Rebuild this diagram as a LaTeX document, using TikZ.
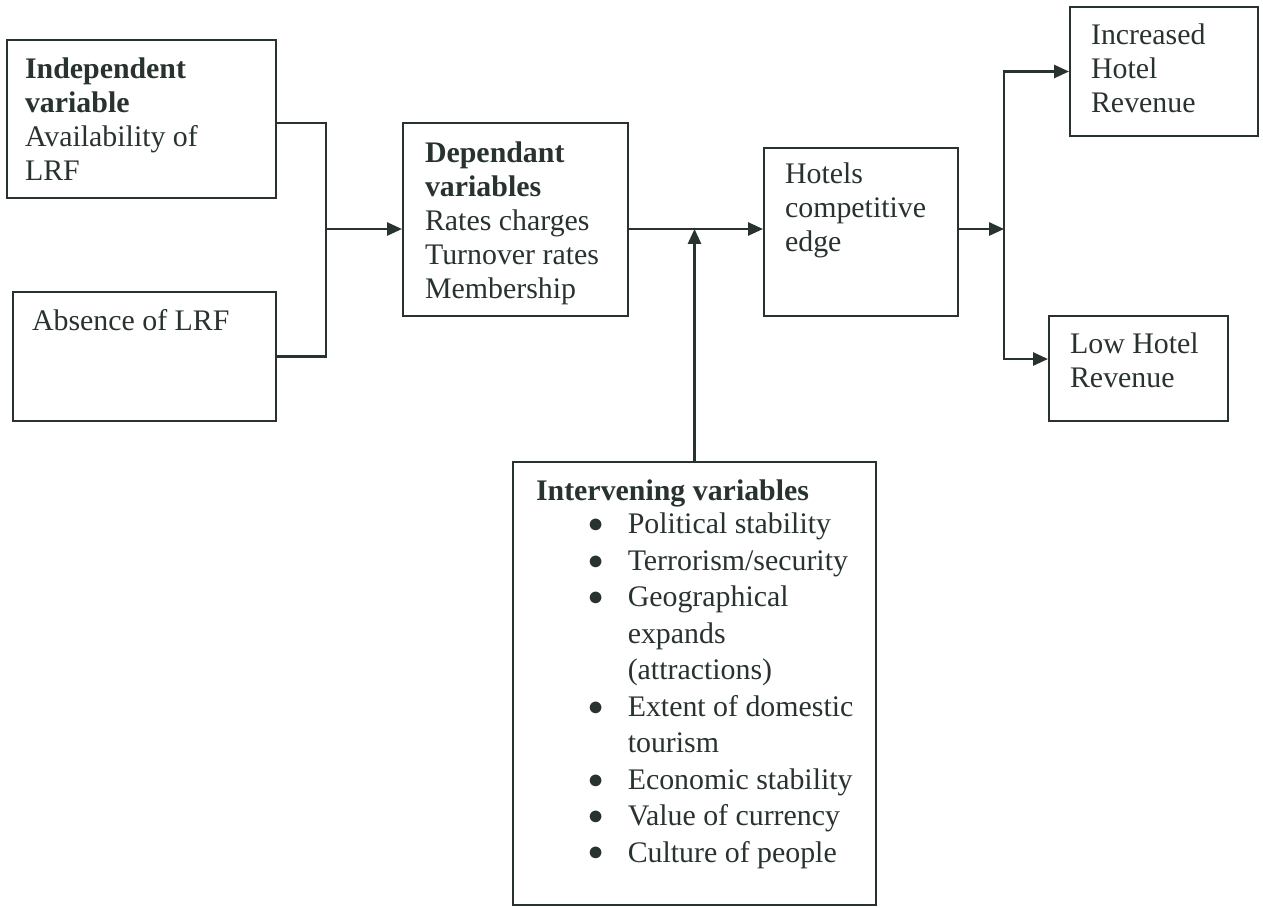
\documentclass[tikz,border=0pt]{standalone}
\usepackage{fontspec}
\setmainfont{Liberation Serif}
\usetikzlibrary{arrows.meta,positioning,fit,calc}
\definecolor{ink}{RGB}{40,50,46}
\newcommand{\itembul}{\makebox[52.2pt][l]{\hspace{29.9pt}\raisebox{0.6pt}{$\bullet$}}}
\newcommand{\itemgap}{\hspace{52.2pt}}

\begin{document}
\begin{tikzpicture}[x=0.02cm, y=-0.02cm,
            ->, >={Triangle[length=8.5pt, width=7.5pt]}, % filled heads on every connector
            color=ink, line width=1.2pt,
            box/.style={draw, inner sep=0pt}, % plain frame round the text
            txt/.style={anchor=base west, inner sep=0pt, align=left, font=\fontsize{17}{19.3}\selectfont}, % placed by its last line
        ]
        \useasboundingbox (0,0) rectangle (1263,907);
        % frames
        \node[box, fit={(7,40) (276,198)}] (indep) {};
        \node[box, fit={(13,292) (276,421)}] (absence) {};
        \node[box, fit={(403,123) (628,316)}] (dep) {};
        \node[box, fit={(764,148) (958,316)}] (edge) {};
        \node[box, fit={(1070,7) (1258,136)}] (incr) {};
        \node[box, fit={(1049,316) (1228,421)}] (low) {};
        \node[box, fit={(513,462) (876,905)}] (interv) {};

        % texts
        \node[txt] (indepT) at (24,180) {\textbf{Independent}\\ \textbf{variable}\\ Availability of\\ LRF};
        \node[txt] (absenceT) at (31,330) {Absence of LRF};
        \node[txt] (depT) at (424,298) {\textbf{Dependant}\\ \textbf{variables}\\ Rates charges\\ Turnover rates\\ Membership};
        \node[txt] (edgeT) at (784,251) {Hotels\\ competitive\\ edge};
        \node[txt] (incrT) at (1090,112) {Increased\\ Hotel\\ Revenue};
        \node[txt] (lowT) at (1069,387) {Low Hotel\\ Revenue};
        \node[txt, font=\fontsize{17}{20.75}\selectfont] (intervT) at (535,862) {\textbf{Intervening variables}\\[-1.5pt]
            \itembul Political stability\\ \itembul Terrorism/security\\ \itembul Geographical\\
            \itemgap expands\\ \itemgap (attractions)\\ \itembul Extent of domestic\\ \itemgap tourism\\
            \itembul Economic stability\\ \itembul Value of currency\\ \itembul Culture of people};

        % connectors
        \coordinate (j1) at (326,229);
        \coordinate (j2) at (1004,229);
        \draw[-] ([yshift=-2.3pt]indep.east) -| (j1) |- (absence.east);
        \draw (j1) -- (dep.west |- j1);
        \draw (dep.east |- j1) -- (edge.west |- j1);
        \draw (interv.north) -- (interv.north |- j1);
        \draw (edge.east |- j2) -- (j2);
        \draw (j2) |- (incr.west);
        \draw (j2) |- ([yshift=5.4pt]low.west);
    \end{tikzpicture}
\end{document}
